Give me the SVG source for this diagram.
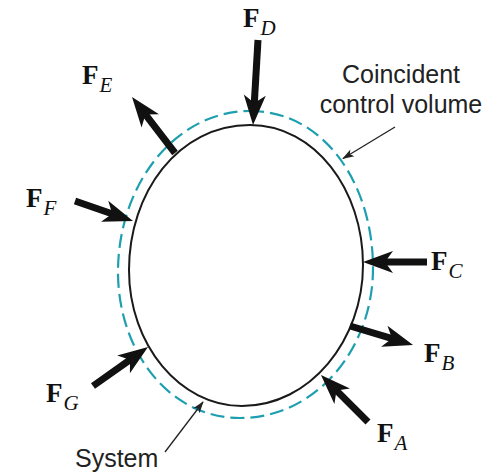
<svg xmlns="http://www.w3.org/2000/svg" width="503" height="473" viewBox="0 0 503 473">
<style>
.sys{fill:none;stroke:#1a1a1a;stroke-width:2}
.cv{fill:none;stroke:#1e9fb0;stroke-width:2.2;stroke-dasharray:14 6}
.force{stroke:#111;stroke-width:7;fill:none}
.ptr{stroke:#222;stroke-width:1.3;fill:none}
.lbl{font-family:"Liberation Sans",Arial,sans-serif;font-size:25px;fill:#222}
.F{font-family:"Liberation Serif","Times New Roman",serif;font-size:27px;font-weight:bold;fill:#111}
.sub{font-family:"Liberation Serif","Times New Roman",serif;font-size:21px;font-style:italic;font-weight:normal}
</style>
<defs>
<marker id="big" markerUnits="userSpaceOnUse" markerWidth="34" markerHeight="24" viewBox="-12 -12 34 24" refX="0" refY="0" orient="auto">
<path d="M20,0 L-10,-11 L-2,0 L-10,11 Z" fill="#111"/>
</marker>
<marker id="small" markerUnits="userSpaceOnUse" markerWidth="14" markerHeight="10" viewBox="-12 -5 14 10" refX="0" refY="0" orient="auto">
<path d="M1,0 L-11,-4 L-8,0 L-11,4 Z" fill="#222"/>
</marker>
</defs>
<g id="control-volume">
<path class="cv" d="M250,111 C325,111 373,185 373,268 C373,350 315,418 240,418 C168,418 118,350 118,272 C118,185 175,111 250,111 Z"/>
</g>
<g id="system">
<path class="sys" d="M250,125 C315,125 363,190 363,265 C363,340 310,406 242,406 C180,406 129,345 129,270 C129,193 178,125 250,125 Z"/>
</g>
<g id="connectors">
<line class="force" x1="258" y1="40" x2="254.2" y2="105" marker-end="url(#big)"/>
<line class="force" x1="175" y1="153" x2="144.2" y2="112.9" marker-end="url(#big)"/>
<line class="force" x1="75" y1="201" x2="114.1" y2="214.5" marker-end="url(#big)"/>
<line class="force" x1="427" y1="262" x2="383" y2="262" marker-end="url(#big)"/>
<line class="force" x1="350" y1="326" x2="393.9" y2="339.2" marker-end="url(#big)"/>
<line class="force" x1="93" y1="386" x2="131.7" y2="358.6" marker-end="url(#big)"/>
<line class="force" x1="368" y1="422" x2="335.1" y2="389.1" marker-end="url(#big)"/>
<line class="ptr" x1="395" y1="127" x2="343" y2="158.5" marker-end="url(#small)"/>
<line class="ptr" x1="165" y1="452" x2="203" y2="402" marker-end="url(#small)"/>
</g>
<g id="label-FD"><text class="F" x="243" y="27">F<tspan class="sub" dx="1" dy="8">D</tspan></text></g>
<g id="label-FE"><text class="F" x="82" y="84">F<tspan class="sub" dx="1" dy="8">E</tspan></text></g>
<g id="label-FF"><text class="F" x="26" y="207">F<tspan class="sub" dx="1" dy="8">F</tspan></text></g>
<g id="label-FC"><text class="F" x="431" y="270">F<tspan class="sub" dx="1" dy="8">C</tspan></text></g>
<g id="label-FB"><text class="F" x="424" y="362">F<tspan class="sub" dx="1" dy="8">B</tspan></text></g>
<g id="label-FG"><text class="F" x="46" y="402">F<tspan class="sub" dx="1" dy="8">G</tspan></text></g>
<g id="label-FA"><text class="F" x="377" y="442">F<tspan class="sub" dx="1" dy="8">A</tspan></text></g>
<g id="label-cv"><text class="lbl" x="401" y="83" text-anchor="middle">Coincident</text><text class="lbl" x="401" y="113" text-anchor="middle">control volume</text></g>
<g id="label-system"><text class="lbl" x="75" y="467">System</text></g>
</svg>
